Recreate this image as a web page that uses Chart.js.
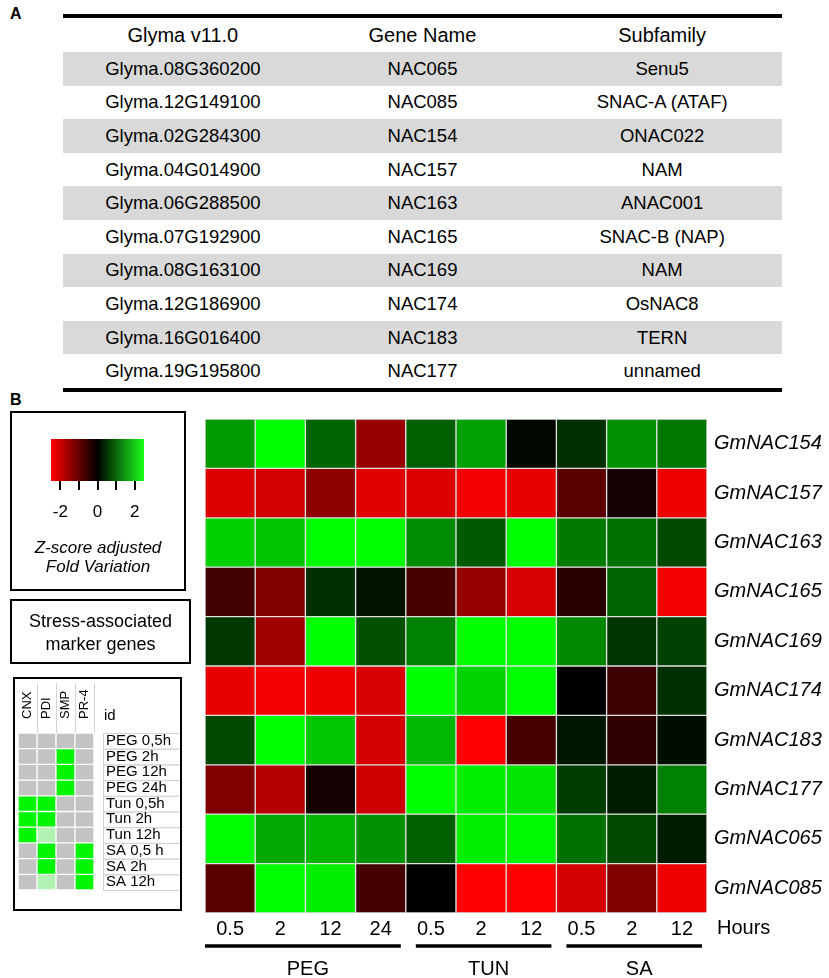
<!DOCTYPE html>
<html>
<head>
<meta charset="utf-8">
<script src="https://cdn.jsdelivr.net/npm/chart.js@4"></script>
<style>
  body { margin: 0; width: 829px; height: 978px; position: relative; background: #fff;
         font-family: "Liberation Sans", Arial, sans-serif; color: #000; overflow: hidden; }
  .panel { position: absolute; font-weight: bold; font-size: 16px; line-height: 16px; }
  #tableA { position: absolute; left: 63px; top: 14px; width: 719px; border-collapse: collapse;
            table-layout: fixed; border-top: 4px solid #000; border-bottom: 4px solid #000; }
  #tableA th { font-weight: normal; font-size: 20px; height: 34px; padding: 0; text-align: center; }
  #tableA td { font-size: 18.5px; height: 33.6px; padding: 0; text-align: center; }
  #tableA tbody tr:nth-child(odd) td { background: #d9d9d9; }
  .box { position: absolute; box-sizing: border-box; border: 2px solid #000; }
  .abs { position: absolute; }
  canvas { position: absolute; }
</style>
</head>
<body>
<div class="panel" style="left:10px;top:6px;">A</div>
<table id="tableA">
  <thead><tr><th>Glyma v11.0</th><th>Gene Name</th><th>Subfamily</th></tr></thead>
  <tbody></tbody>
</table>

<div class="panel" style="left:10px;top:392px;">B</div>

<canvas id="heatChart" width="829" height="578" style="left:0;top:400px;"></canvas>

<!-- colour key -->
<div class="box" style="left:10px;top:411px;width:176px;height:180px;"></div>
<div class="abs" style="left:51px;top:439px;width:93px;height:42px;background:linear-gradient(to right,#ff0000 0%,#000 50%,#1aff1a 100%);"></div>
<div id="keyTicks"></div>
<div class="abs" style="left:10px;top:538px;width:176px;text-align:center;font-style:italic;font-size:17px;line-height:19px;">Z-score adjusted<br>Fold Variation</div>

<div class="box" style="left:10px;top:599px;width:181px;height:65px;padding-top:9px;text-align:center;font-size:18px;line-height:23px;">Stress-associated<br>marker genes</div>

<div class="box" style="left:13px;top:677px;width:169px;height:234px;"></div>
<canvas id="markerChart" width="166" height="232" style="left:14px;top:679px;"></canvas>

<script>
const family = '"Liberation Sans", Arial, sans-serif';

// Panel A
const glymaIds = ['Glyma.08G360200', 'Glyma.12G149100', 'Glyma.02G284300', 'Glyma.04G014900', 'Glyma.06G288500',
                  'Glyma.07G192900', 'Glyma.08G163100', 'Glyma.12G186900', 'Glyma.16G016400', 'Glyma.19G195800'];
const geneNames = ['NAC065', 'NAC085', 'NAC154', 'NAC157', 'NAC163', 'NAC165', 'NAC169', 'NAC174', 'NAC183', 'NAC177'];
const subfamilies = ['Senu5', 'SNAC-A (ATAF)', 'ONAC022', 'NAM', 'ANAC001', 'SNAC-B (NAP)', 'NAM', 'OsNAC8', 'TERN', 'unnamed'];

// Panel B heatmap (z-score adjusted fold variation)
const hours = ['0.5', '2', '12', '24', '0.5', '2', '12', '0.5', '2', '12'];
const treatments = ['PEG', 'TUN', 'SA'];
const treatmentSizes = [4, 3, 3];
const heatGenes = ['GmNAC154', 'GmNAC157', 'GmNAC163', 'GmNAC165', 'GmNAC169',
                   'GmNAC174', 'GmNAC183', 'GmNAC177', 'GmNAC065', 'GmNAC085'];
const gmNAC154 = [1.5, 2.5, 0.98, -1.5, 0.94, 1.57, 0.08, 0.47, 1.41, 1.18];
const gmNAC157 = [-2.16, -2.06, -1.37, -2.2, -2.16, -2.4, -2.27, -0.88, -0.2, -2.33];
const gmNAC163 = [2.04, 1.92, 2.5, 2.5, 1.37, 0.88, 2.5, 1.2, 1.12, 0.73];
const gmNAC165 = [-0.63, -1.25, 0.47, 0.2, -0.71, -1.47, -2.12, -0.39, 0.98, -2.4];
const gmNAC169 = [0.55, -1.57, 2.5, 0.78, 1.25, 2.5, 2.5, 1.33, 0.51, 0.63];
const gmNAC174 = [-2.27, -2.4, -2.35, -2.12, 2.5, 2.08, 2.5, 0, -0.59, 0.47];
const gmNAC183 = [0.71, 2.5, 1.96, -2.08, 1.8, -2.5, -0.69, 0.22, -0.45, 0.14];
const gmNAC177 = [-1.25, -1.76, -0.2, -2.0, 2.5, 2.35, 2.24, 0.59, 0.27, 1.25];
const gmNAC065 = [2.5, 1.65, 1.76, 1.41, 0.94, 2.35, 2.43, 1.1, 0.71, 0.27];
const gmNAC085 = [-0.88, 2.5, 2.35, -0.67, 0, -2.5, -2.5, -2.08, -1.25, -2.33];
const heatRows = [gmNAC154, gmNAC157, gmNAC163, gmNAC165, gmNAC169,
                  gmNAC174, gmNAC183, gmNAC177, gmNAC065, gmNAC085];
const keyTicks = [-2, -1, 0, 1, 2];

// marker genes: 0 = no, 0.5 = weak, 1 = induced
const markerIds = ['PEG 0,5h', 'PEG 2h', 'PEG 12h', 'PEG 24h', 'Tun 0,5h', 'Tun 2h', 'Tun 12h', 'SA 0,5 h', 'SA 2h', 'SA 12h'];
const markerNames = ['CNX', 'PDI', 'SMP', 'PR-4'];
const cnx = [0, 0, 0, 0, 1, 1, 1, 0, 0, 0];
const pdi = [0, 0, 0, 0, 1, 1, 0.5, 1, 1, 0.5];
const smp = [0, 1, 1, 1, 0, 0, 0, 0, 0, 0];
const pr4 = [0, 0, 0, 0, 0, 0, 0, 1, 1, 1];

// build table A
const tbody = document.querySelector('#tableA tbody');
glymaIds.forEach((id, i) => {
  const row = document.createElement('tr');
  row.innerHTML = `<td>${id}</td><td>${geneNames[i]}</td><td>${subfamilies[i]}</td>`;
  tbody.appendChild(row);
});

// colour key ticks
const keyBox = document.getElementById('keyTicks');
keyTicks.forEach(z => {
  const x = 51 + (z + 2.5) / 5 * 93;
  const t = document.createElement('div');
  t.className = 'abs';
  t.style.cssText = `left:${x - 1}px;top:481px;width:2px;height:9px;background:#000;`;
  keyBox.appendChild(t);
  if (z % 2 === 0) {
    const l = document.createElement('div');
    l.className = 'abs';
    l.style.cssText = `left:${x - 20}px;top:502px;width:40px;text-align:center;font-size:17px;line-height:20px;`;
    l.textContent = z;
    keyBox.appendChild(l);
  }
});

function zColor(z) {
  const t = Math.max(-1, Math.min(1, z / 2.5));
  const v = Math.round(Math.abs(t) * 255);
  return t >= 0 ? `rgb(0,${v},0)` : `rgb(${v},0,0)`;
}

const groupPlugin = {
  id: 'groups',
  afterDraw(chart) {
    const { ctx, chartArea, scales: { x } } = chart;
    const w = x.getPixelForValue(1) - x.getPixelForValue(0);
    ctx.save();
    ctx.fillStyle = '#000';
    ctx.strokeStyle = '#000';
    ctx.font = '20px ' + family;
    ctx.textBaseline = 'middle';
    ctx.textAlign = 'left';
    ctx.fillText('Hours', chartArea.right + 10, chartArea.bottom + 15);
    let start = 0;
    treatments.forEach((g, i) => {
      const end = start + treatmentSizes[i] - 1;
      const x0 = x.getPixelForValue(start) - w / 2 + (i === 0 ? 0 : 10);
      const x1 = x.getPixelForValue(end) + w / 2 - 5;
      ctx.lineWidth = 3.5;
      ctx.beginPath();
      ctx.moveTo(x0, chartArea.bottom + 33);
      ctx.lineTo(x1, chartArea.bottom + 33);
      ctx.stroke();
      ctx.textAlign = 'center';
      ctx.fillText(g, (x0 + x1) / 2 + 5, chartArea.bottom + 56);
      start = end + 1;
    });
    ctx.restore();
  }
};

new Chart(document.getElementById('heatChart'), {
  type: 'bar',
  data: {
    labels: hours,
    datasets: heatRows.map((row, i) => ({
      label: heatGenes[i],
      data: row.map(() => 1),
      backgroundColor: row.map(zColor),
      borderColor: '#e2e2e2',
      borderWidth: 1,
      borderSkipped: false,
      barPercentage: 1,
      categoryPercentage: 1
    }))
  },
  options: {
    responsive: false,
    animation: false,
    layout: { padding: { left: 205, top: 11, right: 0, bottom: 0 } },
    plugins: { legend: { display: false }, tooltip: { enabled: false } },
    scales: {
      x: {
        stacked: true,
        grid: { display: false, drawTicks: false },
        border: { display: false },
        ticks: { color: '#000', font: { size: 20, family }, padding: 4, maxRotation: 0, autoSkip: false },
        afterFit: s => { s.height = 65; }
      },
      y: {
        stacked: true,
        reverse: true,
        min: 0,
        max: 10,
        position: 'right',
        grid: { display: false, drawTicks: false },
        border: { display: false },
        afterBuildTicks: s => { s.ticks = heatGenes.map((g, i) => ({ value: i + 0.5 })); },
        ticks: {
          callback: (v, i) => heatGenes[i],
          color: '#000',
          font: { size: 20, style: 'italic', family },
          padding: 7,
          autoSkip: false
        },
        afterFit: s => { s.width = 122; }
      }
    }
  },
  plugins: [groupPlugin]
});

// marker genes grid
const markerCols = [cnx, pdi, smp, pr4];
function markerColor(v) {
  if (v >= 1) return '#00f500';
  if (v > 0) return '#b2f2b2';
  return '#c3c3c3';
}

const markerPlugin = {
  id: 'markerFrame',
  beforeDraw(chart) {
    const { ctx, chartArea, scales: { x, y } } = chart;
    const rowH = y.getPixelForValue(1) - y.getPixelForValue(0);
    const colW = x.getPixelForValue(1) - x.getPixelForValue(0);
    ctx.save();
    ctx.strokeStyle = '#d4d4d4';
    ctx.lineWidth = 1;
    markerIds.forEach((id, i) => {
      const top = y.getPixelForValue(i);
      ctx.strokeRect(chartArea.right + 9.5, top + 0.5, chart.width - chartArea.right - 9, rowH);
    });
    // header separators
    for (let i = 1; i <= markerNames.length; i++) {
      const lx = Math.round(x.getPixelForValue(i - 1) + colW / 2) + 0.5;
      ctx.beginPath();
      ctx.moveTo(lx, 4);
      ctx.lineTo(lx, chartArea.top);
      ctx.stroke();
    }
    ctx.fillStyle = '#000';
    ctx.font = '13px ' + family;
    ctx.textAlign = 'left';
    ctx.textBaseline = 'middle';
    markerNames.forEach((m, i) => {
      ctx.save();
      ctx.translate(x.getPixelForValue(i), chartArea.top - 14);
      ctx.rotate(-Math.PI / 2);
      ctx.fillText(m, 0, 0);
      ctx.restore();
    });
    ctx.font = '15px ' + family;
    ctx.fillText('id', chartArea.right + 10, chartArea.top - 17);
    ctx.restore();
  }
};

new Chart(document.getElementById('markerChart'), {
  type: 'bar',
  data: {
    labels: markerNames,
    datasets: markerIds.map((id, r) => ({
      label: id,
      data: markerNames.map(() => 1),
      backgroundColor: markerCols.map(col => markerColor(col[r])),
      borderColor: '#fff',
      borderWidth: 1,
      borderSkipped: false,
      barPercentage: 1,
      categoryPercentage: 1
    }))
  },
  options: {
    responsive: false,
    animation: false,
    layout: { padding: { left: 4, top: 54, right: 0, bottom: 4 } },
    plugins: { legend: { display: false }, tooltip: { enabled: false } },
    scales: {
      x: { stacked: true, display: false },
      y: {
        stacked: true,
        reverse: true,
        min: 0,
        max: 10,
        position: 'right',
        grid: { display: false, drawTicks: false },
        border: { display: false },
        afterBuildTicks: s => { s.ticks = markerIds.map((m, i) => ({ value: i + 0.5 })); },
        ticks: {
          callback: (v, i) => markerIds[i],
          color: '#000',
          font: { size: 15, family },
          padding: 12,
          autoSkip: false
        },
        afterFit: s => { s.width = 86; }
      }
    }
  },
  plugins: [markerPlugin]
});
</script>
</body>
</html>
